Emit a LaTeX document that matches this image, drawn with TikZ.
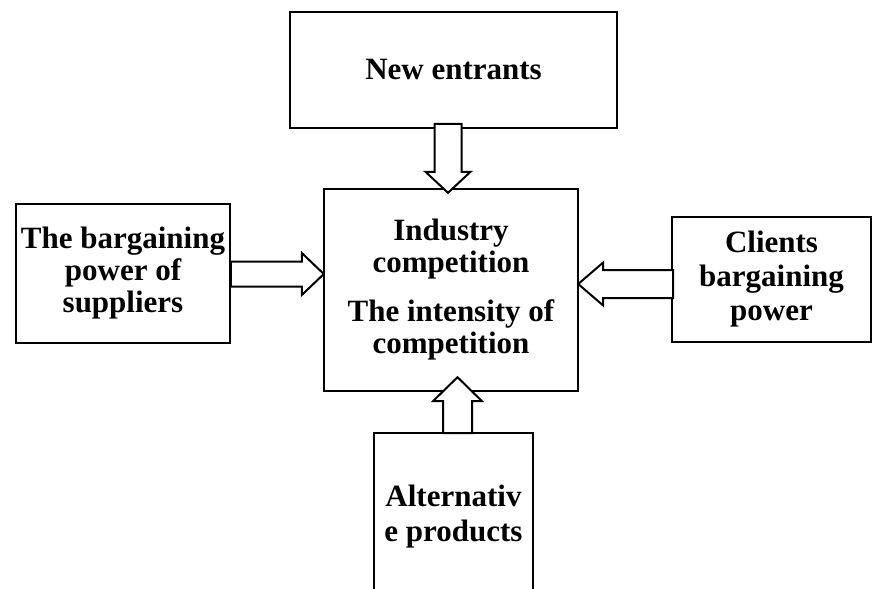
\documentclass[tikz,border=0pt]{standalone}
\usepackage{fontspec}
\setmainfont{Liberation Serif}
\usetikzlibrary{calc}

\begin{document}
\begin{tikzpicture}[
    x=0.5pt, y=-0.5pt,
    font=\bfseries\fontsize{15.5}{16}\selectfont,
    box/.style={draw=black, line width=1.2pt, inner sep=0pt, align=center},
    barrow/.style={draw=black, fill=white, line width=1pt, line join=miter},
  ]
    \clip (0,0) rectangle (873,589);

    % --- the five forces boxes
    \node[box, minimum width=163.5pt, minimum height=58pt] (entr) at (453.5,70) {New entrants};
    \node[box, minimum width=127pt, minimum height=101pt] (comp) at (451,290)
      {Industry\\competition\\[8.5pt]The intensity of\\competition};
    \node[box, minimum width=107pt, minimum height=69.5pt] (supp) at (123,273.5)
      {The bargaining\\power of\\suppliers};
    \node[box, minimum width=99.5pt, minimum height=62.5pt] (clnt) at (771.5,279.5)
      {Clients\\[1pt]bargaining\\[1pt]power};
    \node[box, minimum width=79.5pt, minimum height=83.5pt] (altp) at (453.5,516.5)
      {Alternativ\\[1.5pt]e products};

    % --- block arrows, tip on the competition box
    \draw[barrow] ($(comp.north)+(-3,5)$) -- ++(22.5,-21) -- ++(-9,0) -- ++(0,-48)
      -- ++(-27,0) -- ++(0,48) -- ++(-9,0) -- cycle;
    \draw[barrow] ($(comp.west)+(1,-16)$) -- ++(-22,-21) -- ++(0,8.5) -- ++(-71,0)
      -- ++(0,25) -- ++(71,0) -- ++(0,8.5) -- cycle;
    \draw[barrow] ($(comp.east)+(-1,-6)$) -- ++(25,-21.5) -- ++(0,7.5) -- ++(70,0)
      -- ++(0,28) -- ++(-70,0) -- ++(0,7.5) -- cycle;
    \draw[barrow] ($(comp.south)+(6.5,-15)$) -- ++(24.5,24) -- ++(-10,0) -- ++(0,32)
      -- ++(-29,0) -- ++(0,-32) -- ++(-10,0) -- cycle;
  \end{tikzpicture}
\end{document}
